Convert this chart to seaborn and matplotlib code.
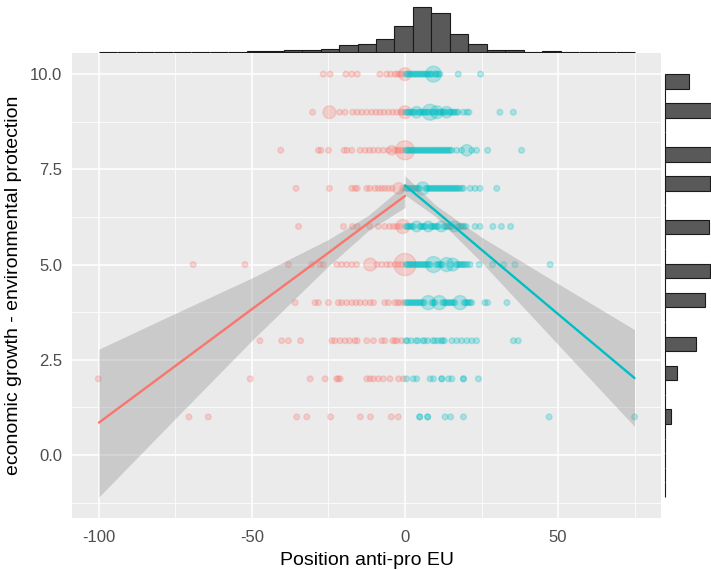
import numpy as np
import pandas as pd
import matplotlib
matplotlib.use("Agg")
import matplotlib.pyplot as plt
import seaborn as sns

# ---- scatter data: x positions per row of the y scale ----
anti_10 = [-26.7, -24.5, -19.3, -17.4, -15.6, -8.2, -6.0, -4.7, -3.3, -2.5, -1.8, -1.0]
pro_10 = [0.3, 0.8, 1.3, 1.8, 2.3, 2.8, 3.3, 3.8, 4.3, 4.8, 5.3, 5.8, 6.3, 6.8, 7.3, 7.8,
          8.3, 8.8, 9.8, 10.3, 10.8, 11.4, 17.4, 24.7]
anti_9 = [-30.2, -21.4, -19.6, -17.1, -15.6, -14.1, -12.5, -10.9, -9.5, -8.2, -6.9, -5.4,
          -4.0, -2.7, -1.4, -0.7]
pro_9 = [0.3, 0.8, 1.3, 1.8, 2.3, 2.8, 3.3, 4.3, 4.8, 5.3, 5.8, 6.3, 6.8, 7.3, 7.8, 8.8,
         9.3, 9.8, 10.8, 11.3, 11.8, 12.3, 12.8, 13.3, 14.3, 14.8, 15.3, 15.8, 16.3, 16.9,
         17.4, 19.1, 20.2, 20.9, 31.0, 35.4]
anti_8 = [-40.6, -28.3, -27.5, -25.0, -19.9, -19.0, -17.4, -14.7, -13.0, -11.6, -10.3,
          -8.7, -7.1, -5.4, -3.3, -2.4, -1.6, -0.8]
pro_8 = [0.3, 0.8, 1.3, 1.8, 2.3, 2.8, 3.3, 3.8, 4.3, 4.8, 5.3, 5.8, 6.3, 6.8, 7.3, 7.8,
         8.3, 8.8, 9.3, 9.8, 10.3, 10.8, 11.3, 11.8, 12.3, 12.8, 13.3, 13.8, 14.3, 14.8,
         15.3, 16.9, 18.5, 21.8, 23.4, 27.0, 38.1]
anti_7 = [-35.6, -24.7, -17.4, -16.3, -15.6, -12.5, -11.5, -9.8, -8.7, -7.6, -6.6, -5.4,
          -4.2, -0.8]
pro_7 = [0.3, 0.8, 1.3, 1.8, 2.3, 2.8, 3.3, 3.8, 4.3, 4.8, 6.8, 7.3, 7.8, 8.3, 8.8, 9.3,
         9.8, 10.3, 10.8, 11.3, 11.8, 12.3, 12.8, 13.3, 13.8, 14.3, 14.8, 15.3, 15.8, 16.3,
         16.8, 17.3, 17.8, 18.5, 19.1, 21.3, 22.9, 24.5, 30.0]
anti_6 = [-34.8, -20.1, -17.2, -15.6, -11.5, -8.7, -6.6, -5.0, -3.8, -2.7, -1.8]
pro_6 = [0.3, 0.8, 1.3, 1.8, 2.3, 2.8, 4.8, 5.3, 5.8, 6.3, 6.8, 8.3, 8.8, 9.3, 9.8, 10.3,
         10.8, 12.8, 13.3, 13.8, 14.3, 14.8, 15.3, 17.3, 17.8, 18.3, 18.8, 19.3, 19.9,
         22.9, 24.5, 28.7, 31.5, 34.5]
anti_5 = [-69.2, -52.3, -38.1, -30.5, -27.8, -26.7, -22.3, -20.7, -19.1, -17.4, -15.8,
          -9.2, -7.6, -6.0, -4.9, -3.3, -2.2, -1.1]
pro_5 = [0.3, 0.8, 1.3, 1.8, 2.3, 2.8, 3.3, 3.8, 4.3, 4.8, 5.3, 5.8, 6.3, 6.8, 7.3, 7.8,
         8.3, 10.3, 10.8, 11.3, 11.8, 12.3, 14.8, 16.8, 17.3, 17.8, 18.3, 18.8, 19.3, 19.8,
         20.5, 21.3, 24.2, 28.6, 32.3, 35.9, 47.4]
anti_4 = [-35.9, -29.4, -28.3, -25.0, -21.8, -20.7, -19.1, -17.4, -16.0, -14.7, -13.0,
          -11.4, -10.3, -6.6, -5.4, -3.3, -2.4, -1.6, -0.5]
pro_4 = [0.3, 0.8, 1.3, 1.8, 2.3, 2.8, 3.3, 3.8, 4.3, 4.8, 5.3, 5.8, 6.3, 8.8, 9.3, 9.8,
         12.3, 12.8, 13.3, 13.8, 14.3, 14.8, 15.3, 15.8, 16.3, 19.3, 19.8, 20.3, 20.8,
         21.3, 21.8, 26.1, 27.0, 33.3]
anti_3 = [-47.4, -40.3, -38.1, -34.1, -23.9, -22.9, -21.2, -19.6, -18.1, -16.4, -15.6,
          -12.5, -10.3, -7.6, -6.6, -4.0, -3.3, -2.6, -1.1]
pro_3 = [0.3, 0.8, 2.0, 3.6, 4.2, 5.8, 6.4, 7.4, 9.1, 9.7, 10.7, 11.8, 12.3, 12.9, 15.3,
         16.9, 18.5, 20.2, 21.8, 23.4, 35.4, 37.0]
anti_2 = [-100.2, -50.6, -31.0, -26.1, -22.3, -21.8, -21.2, -12.5, -11.4, -10.3, -8.7,
          -7.1, -4.9, -2.1, -0.5]
pro_2 = [0.5, 2.7, 3.8, 8.2, 9.3, 12.0, 12.0, 14.2, 15.3, 19.1, 19.1, 24.0]
anti_1 = [-70.6, -64.3, -35.4, -32.1, -24.3, -14.6, -11.3, -4.5, -2.2]
pro_1 = [4.8, 4.8, 7.4, 7.4, 13.1, 14.9, 19.1, 47.1, 75.0]

# larger (weighted) points
big_x = [0, 9.3, -24.7, 0, 3.8, 8.2, 10.4, 13.6, -4.3, 0, 20.2, -2.1, 5.8, -0.7, 3.8,
         7.6, 11.9, 16.1, -11.4, 0, 9.3, 13.6, 15.6, 7.6, 11.2, 18.0]
big_y = [10, 10, 9, 9, 9, 9, 9, 9, 8, 8, 8, 7, 7, 6, 6, 6, 6, 6, 5, 5, 5, 5, 5, 4, 4, 4]
big_side = ["anti", "pro", "anti", "anti", "pro", "pro", "pro", "pro", "anti", "anti",
            "pro", "anti", "pro", "anti", "pro", "pro", "pro", "pro", "anti", "anti",
            "pro", "pro", "pro", "pro", "pro", "pro"]
big_size = [5, 7.7, 5, 5, 4, 7.7, 5, 4, 2.8, 11, 4, 4, 5, 6, 3.5, 3.5, 3.5, 3.5, 5, 15,
            7.7, 6, 5, 6, 6, 6]

# ---- linear fits with confidence band ----
anti_fit_x = [-100, -75, -50, -25, -12, 0]
anti_fit = [0.85, 2.34, 3.83, 5.31, 6.09, 6.80]
anti_lo = [-1.10, 0.96, 3.01, 4.96, 5.89, 6.50]
anti_hi = [2.78, 3.72, 4.65, 5.66, 6.29, 7.10]
pro_fit_x = [0, 10, 25, 50, 75]
pro_fit = [7.08, 6.41, 5.39, 3.70, 2.02]
pro_lo = [6.83, 6.26, 5.06, 2.90, 0.75]
pro_hi = [7.33, 6.56, 5.72, 4.50, 3.29]

# ---- marginal histograms ----
x_range = (-100, 75)
top_counts = [1, 0, 0, 0, 1, 1, 0, 1, 3, 2, 8, 8, 19, 38, 47, 79, 158, 272, 238, 107,
              47, 8, 8, 0, 2, 0, 0, 0, 1]
y_range = (-1.1, 10)
right_values = [10, 9, 8, 7, 6, 5, 4, 3, 2, 1]
right_counts = [160, 310, 305, 297, 290, 297, 264, 205, 79, 40]

RED = "#F8766D"
CYAN = "#00BFC4"

records = []
rows = [(10, anti_10, pro_10), (9, anti_9, pro_9), (8, anti_8, pro_8), (7, anti_7, pro_7),
        (6, anti_6, pro_6), (5, anti_5, pro_5), (4, anti_4, pro_4), (3, anti_3, pro_3),
        (2, anti_2, pro_2), (1, anti_1, pro_1)]
for yv, a, p in rows:
    records += [(x, yv, "anti", 1.0) for x in a]
for yv, a, p in rows:
    records += [(x, yv, "pro", 1.0) for x in p]
records += list(zip(big_x, big_y, big_side, big_size))
df = pd.DataFrame(records, columns=["pos", "econ", "side", "weight"])
df["side"] = pd.Categorical(df["side"], ["anti", "pro"])
df = df.sort_values("side", kind="stable")

sns.set_theme(style="darkgrid", rc={"axes.facecolor": "#EBEBEB", "grid.color": "white"})
plt.rcParams["font.family"] = ["Liberation Sans", "DejaVu Sans"]

W, H = 711, 570
fig = plt.figure(figsize=(W / 100, H / 100), dpi=100)
fig.patch.set_facecolor("white")


def px_axes(l, t, r, b):
    return fig.add_axes([l / W, 1 - b / H, (r - l) / W, (b - t) / H])


ax = px_axes(72.2, 53, 661.3, 518)
ax_top = px_axes(72.2, 5, 661.3, 53)
ax_right = px_axes(663, 53, 711, 518)

sns.scatterplot(data=df, x="pos", y="econ", hue="side", palette={"anti": RED, "pro": CYAN},
                size="weight", sizes=(17, 17 * 15), size_norm=(1, 15), alpha=0.26,
                edgecolor="face", linewidth=1.0, legend=False, ax=ax, zorder=2)

ax.fill_between(anti_fit_x, anti_lo, anti_hi, color="#999999", alpha=0.4, lw=0, zorder=3)
ax.fill_between(pro_fit_x, pro_lo, pro_hi, color="#999999", alpha=0.4, lw=0, zorder=3)
ax.plot(anti_fit_x, anti_fit, color=RED, lw=1.7, zorder=4)
ax.plot(pro_fit_x, pro_fit, color=CYAN, lw=1.7, zorder=4)

ax.set_xlim(-108.75, 83.75)
ax.set_ylim(-1.655, 10.555)
ax.set_xticks([-100, -50, 0, 50])
ax.set_xticks([-75, -25, 25, 75], minor=True)
ax.set_yticks([0, 2.5, 5, 7.5, 10])
ax.set_yticks([-1.25, 1.25, 3.75, 6.25, 8.75], minor=True)
ax.set_yticklabels(["0.0", "2.5", "5.0", "7.5", "10.0"])
ax.set_xticklabels(["-100", "-50", "0", "50"])
ax.grid(which="major", color="white", lw=1.1)
ax.grid(which="minor", color="white", lw=0.55)
ax.tick_params(which="major", length=4, width=0.9, color="#333333", labelsize=12,
               labelcolor="#4D4D4D", pad=3)
ax.tick_params(axis="x", which="major", pad=5)
ax.tick_params(which="minor", length=0)
for s in ax.spines.values():
    s.set_visible(False)
ax.set_xlabel("Position anti-pro EU", fontsize=14, color="black", labelpad=5)
ax.set_ylabel("economic growth - environmental protection", fontsize=14, color="black",
              labelpad=6)

# top marginal histogram
top = pd.DataFrame({"mid": np.linspace(x_range[0], x_range[1], 2 * len(top_counts) + 1)[1::2],
                    "count": top_counts})
sns.histplot(data=top, x="mid", weights="count", bins=len(top_counts), binrange=x_range,
             ax=ax_top, color="#595959", edgecolor="#1A1A1A", linewidth=0.8, alpha=1)
ax_top.set_xlim(ax.get_xlim())
ax_top.set_ylim(-8, 284)
ax_top.set_axis_off()

# right marginal histogram
right = pd.DataFrame({"value": right_values, "count": right_counts})
sns.histplot(data=right, y="value", weights="count", bins=29, binrange=y_range, ax=ax_right,
             color="#595959", edgecolor="#1A1A1A", linewidth=0.8, alpha=1)
ax_right.set_ylim(ax.get_ylim())
ax_right.set_xlim(-13, 304)
ax_right.set_axis_off()

fig.savefig("out.png", dpi=100, facecolor="white")
